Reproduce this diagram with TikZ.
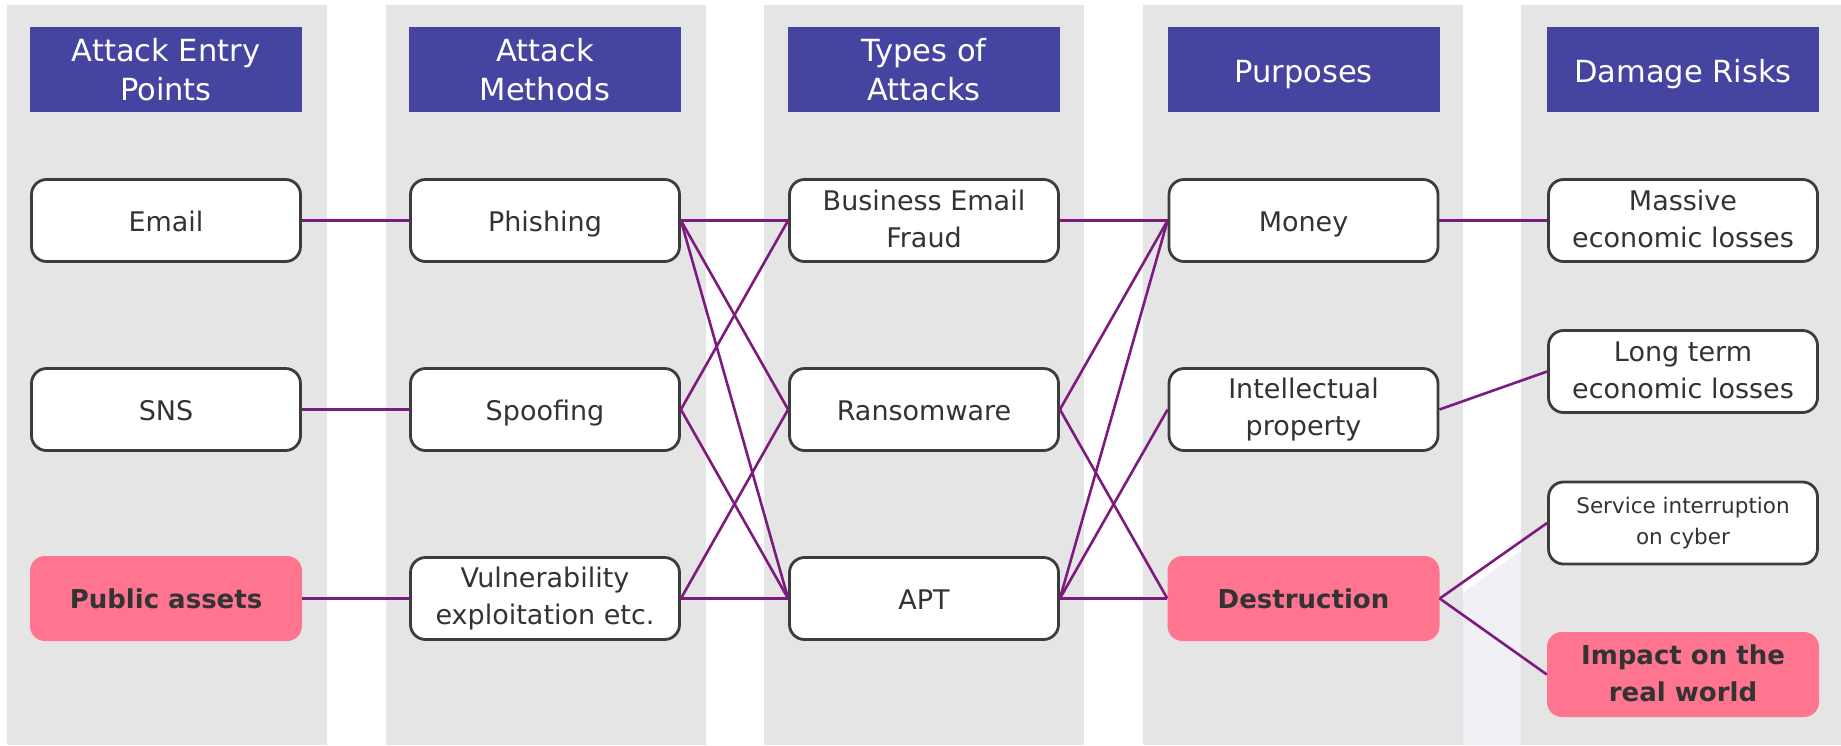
\documentclass[tikz,border=0pt]{standalone}
\usepackage{fontspec}
\setmainfont{DejaVu Sans}
\definecolor{bandgray}{HTML}{E5E5E5}
\definecolor{headblue}{HTML}{4545A1}
\definecolor{hotpink}{HTML}{FF758F}
\definecolor{linkpurple}{HTML}{7D1A7E}
\definecolor{edgegray}{HTML}{3C3C3C}
\definecolor{inkgray}{HTML}{333333}
\definecolor{haze}{HTML}{F1F1F5}
% invisible rule that sets the height and depth of a line of text
\newcommand\capstrut[2]{\rule[-#2]{0pt}{#1}}
\tikzset{
  band/.style={fill=bandgray, draw=none},
  centred/.style n args={2}{execute at begin node=\capstrut{#1}{#2},
    execute at end node=\capstrut{#1}{#2}},
  % base looks
  headbase/.style={fill=headblue, draw=none, minimum width=272pt, minimum height=85pt,
    inner sep=0pt, align=center, text=white, font=\fontsize{30.5}{39}\selectfont},
  itembase/.style={fill=white, draw=edgegray, line width=2.8pt, rounded corners=15pt,
    minimum width=269pt, minimum height=82pt, inner sep=0pt, align=center,
    text=inkgray, font=\fontsize{27}{37}\selectfont},
  alertbase/.style={fill=hotpink, draw=none, rounded corners=15pt,
    minimum width=272pt, minimum height=85pt, inner sep=0pt, align=center,
    text=inkgray, font=\fontsize{26}{37}\selectfont\bfseries},
  % one-line and two-line variants
  header/.style={headbase, centred={37pt}{4pt}},
  headertwo/.style={headbase, centred={48pt}{0pt}, inner ysep=-1pt},
  item/.style={itembase, centred={36.5pt}{7pt}},
  itemtwo/.style={itembase, centred={40pt}{3.5pt}},
  smallitem/.style={itembase, centred={36pt}{4pt}, font=\fontsize{21.5}{31}\selectfont},
  alert/.style={alertbase, centred={33pt}{7pt}},
  alerttwo/.style={alertbase, centred={38pt}{2pt}},
  link/.style={draw=linkpurple, line width=2.6pt},
}
\begin{document}
\begin{tikzpicture}[x=1pt, y=-1pt]
\useasboundingbox (0,0) rectangle (1841,745);
% column bands
\fill[band] (7,5) rectangle (327,745);
\fill[band] (386,5) rectangle (706,745);
\fill[band] (764,5) rectangle (1084,745);
\fill[band] (1143,5) rectangle (1463,745);
\fill[band] (1521,5) rectangle (1841,745);
% faint wedge in the last gap
\fill[haze] (1463,593) -- (1521,550) -- (1521,745) -- (1463,745) -- cycle;

% column headers
\node[headertwo] (h1) at (166,69.5) {Attack Entry\\Points};
\node[headertwo] (h2) at (545,69.5) {Attack\\Methods};
\node[headertwo] (h3) at (924,69.5) {Types of\\Attacks};
\node[header] (h4) at (1303.5,69.5) {Purposes};
\node[header] (h5) at (1683,69.5) {Damage Risks};

% entry points
\node[item] (email) at (166,220.5) {Email};
\node[item] (sns) at (166,409.5) {SNS};
\node[alert] (public) at (166,598.5) {Public assets};
% methods
\node[item] (phish) at (545,220.5) {Phishing};
\node[item] (spoof) at (545,409.5) {Spoofing};
\node[itemtwo] (vuln) at (545,598.5) {Vulnerability\\exploitation etc.};
% attack types
\node[itemtwo] (bef) at (924,220.5) {Business Email\\Fraud};
\node[item] (ransom) at (924,409.5) {Ransomware};
\node[item] (apt) at (924,598.5) {APT};
% purposes
\node[item] (money) at (1303.5,220.5) {Money};
\node[itemtwo] (ip) at (1303.5,409.5) {Intellectual\\property};
\node[alert] (destr) at (1303.5,598.5) {Destruction};
% damage risks
\node[itemtwo] (massive) at (1683,220.5) {Massive\\economic losses};
\node[itemtwo] (longterm) at (1683,371.5) {Long term\\economic losses};
\node[smallitem] (service) at (1683,523) {Service interruption\\on cyber};
\node[alerttwo] (impact) at (1683,674.5) {Impact on the\\real world};

% connectors
\draw[link] (email.east) -- (phish.west);
\draw[link] (sns.east) -- (spoof.west);
\draw[link] (public.east) -- (vuln.west);

\draw[link] (phish.east) -- (bef.west);
\draw[link] (phish.east) -- (ransom.west);
\draw[link] (phish.east) -- (apt.west);
\draw[link] (spoof.east) -- (bef.west);
\draw[link] (spoof.east) -- (apt.west);
\draw[link] (vuln.east) -- (ransom.west);
\draw[link] (vuln.east) -- (apt.west);

\draw[link] (bef.east) -- (money.west);
\draw[link] (ransom.east) -- (money.west);
\draw[link] (ransom.east) -- (destr.west);
\draw[link] (apt.east) -- (money.west);
\draw[link] (apt.east) -- (ip.west);
\draw[link] (apt.east) -- (destr.west);

\draw[link] (money.east) -- (massive.west);
\draw[link] (ip.east) -- (longterm.west);
\draw[link] (destr.east) -- (service.west);
\draw[link] (destr.east) -- (impact.west);
\end{tikzpicture}
\end{document}
